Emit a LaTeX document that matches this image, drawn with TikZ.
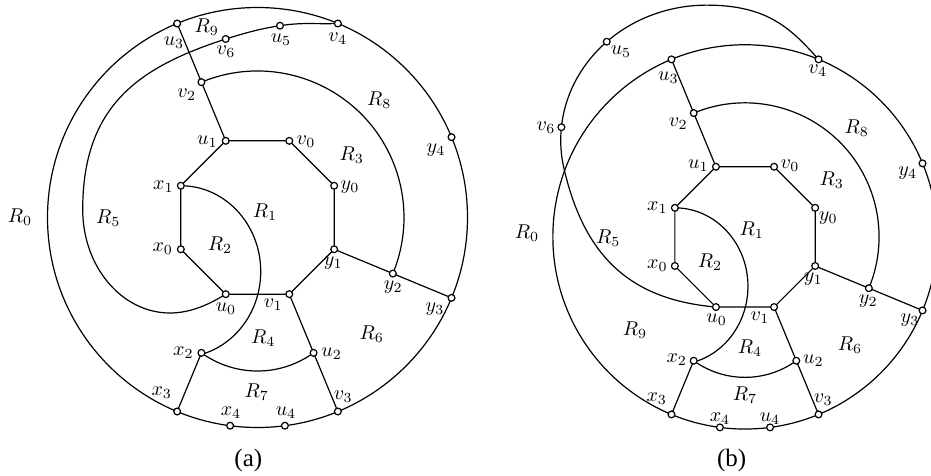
\documentclass[tikz,border=0pt]{standalone}
\usepackage{fontspec}
\newfontfamily\capfont{Liberation Serif}
\usetikzlibrary{backgrounds}
\tikzset{
  vtx/.style={circle, draw, fill=white, line width=0.6pt, inner sep=0pt, minimum size=3.4pt},
  edge/.style={line width=0.6pt},
  lbl/.style={inner sep=0pt},
  capt/.style={inner sep=0pt, font=\capfont\fontsize{12.5}{15}\selectfont},
}
\newcommand\lab[4]{\node[lbl] (#1) at (#2,-#3) {$#4$};}
\newcommand\commonpart[1]{%
  \node[vtx] (#1u1) at (112.5:83) {};
  \node[vtx] (#1v0) at (67.5:83) {};
  \node[vtx] (#1y0) at (22.5:83) {};
  \node[vtx] (#1y1) at (-22.5:83) {};
  \node[vtx] (#1v1) at (-67.5:83) {};
  \node[vtx] (#1u0) at (-112.5:83) {};
  \node[vtx] (#1x0) at (-157.5:83) {};
  \node[vtx] (#1x1) at (157.5:83) {};
  \node[vtx] (#1v2) at (112.5:146.5) {};
  \node[vtx] (#1y2) at (-22.5:146.5) {};
  \node[vtx] (#1u2) at (-67.5:146.5) {};
  \node[vtx] (#1x2) at (-112.5:146.5) {};
  \node[vtx] (#1u3) at (112.5:210) {};
  \node[vtx] (#1v4) at (67.5:210) {};
  \node[vtx] (#1y4) at (22.5:210) {};
  \node[vtx] (#1y3) at (-22.5:210) {};
  \node[vtx] (#1v3) at (-67.5:210) {};
  \node[vtx] (#1u4) at (-82.5:210) {};
  \node[vtx] (#1x4) at (-97.5:210) {};
  \node[vtx] (#1x3) at (-112.5:210) {};
  \begin{pgfonlayer}{background}
    \draw[edge] (#1u1.center) -- (#1v0.center) -- (#1y0.center) -- (#1y1.center) -- (#1v1.center)
      -- (#1u0.center) -- (#1x0.center) -- (#1x1.center) -- cycle;
    \draw[edge] (#1u1.center) -- (#1v2.center) -- (#1u3.center);
    \draw[edge] (#1y1.center) -- (#1y2.center) -- (#1y3.center);
    \draw[edge] (#1v1.center) -- (#1u2.center) -- (#1v3.center);
    \draw[edge] (#1x2.center) -- (#1x3.center);
    \draw[edge] (0,0) circle[radius=210];
    \draw[edge] (#1v2.center) arc[start angle=112.5, end angle=-22.5, radius=146.5];
    \draw[edge] (#1x2.center) arc[start angle=-125.93, end angle=-54.07, radius=95.53];
    \draw[edge] (#1x1.center) arc[start angle=90, end angle=-75.05, x radius=79.9, y radius=85.76];
  \end{pgfonlayer}
}
\begin{document}
\begin{tikzpicture}[x=0.5pt,y=0.5pt]
\useasboundingbox (0,0) rectangle (931,-476);
\begin{pgfonlayer}{background}
  \fill[white] (0,0) rectangle (931,-476);
\end{pgfonlayer}

% ---------------- panel (a)
\begin{scope}[shift={(257.5,-217.5)}]
  \commonpart{a}
  \node[vtx] (av6) at (-31.8,178.5) {};
  \node[vtx] (au5) at (22.5,191.8) {};
  \coordinate (abot) at (-87.5,-95.5);
  \begin{pgfonlayer}{background}
    \draw[edge] (au0.center) .. controls +(212:20) and +(0:20) .. (abot)
      arc[start angle=270, end angle=180, x radius=87.3, y radius=103.5]
      .. controls +(90:105) and +(198:90) .. (av6.center)
      to[out=17,in=189] (au5.center) to[out=9,in=182] (av4.center);
  \end{pgfonlayer}
\end{scope}

% ---------------- panel (b)
\begin{scope}[shift={(745,-236.9)}, scale=0.915]
  \commonpart{b}
\end{scope}
\begin{scope}[shift={(745,-236.9)}]
  \node[vtx] (bv6) at (-183.6,109.7) {};
  \node[vtx] (bu5) at (-138.25,195.2) {};
  \coordinate (bcross) at (-181.1,68.7);
  \begin{pgfonlayer}{background}
    \draw[edge] (bu0.center) .. controls +(175:85) and +(283:92) .. (bcross)
      arc[start angle=192, end angle=90, x radius=146, y radius=135]
      .. controls +(0:62) and +(132:40) .. (bv4.center);
  \end{pgfonlayer}
\end{scope}

% ---------------- labels (a)
\lab{aR9}{206.7}{26.7}{R_9}
\lab{lau3}{174}{42.7}{u_3}
\lab{lav6}{226}{51.7}{v_6}
\lab{lau5}{281}{39.3}{u_5}
\lab{lav4}{337.7}{38.3}{v_4}
\lab{lav2}{186.7}{95}{v_2}
\lab{aR8}{379.3}{100}{R_8}
\lab{lau1}{207.3}{141.7}{u_1}
\lab{lav0}{306}{141.7}{v_0}
\lab{aR3}{351.7}{155}{R_3}
\lab{lay4}{436}{150}{y_4}
\lab{lax1}{163.3}{186.7}{x_1}
\lab{lay0}{350}{186.7}{y_0}
\lab{aR0}{20}{216.7}{R_0}
\lab{aR5}{108.3}{218.3}{R_5}
\lab{aR1}{265}{211.7}{R_1}
\lab{aR2}{220}{245}{R_2}
\lab{lax0}{162.7}{249}{x_0}
\lab{lay1}{333.3}{263.3}{y_1}
\lab{lay2}{393.3}{287.3}{y_2}
\lab{lay3}{435}{309.3}{y_3}
\lab{lau0}{226}{308.3}{u_0}
\lab{lav1}{273.3}{305}{v_1}
\lab{aR4}{263.3}{338.3}{R_4}
\lab{aR6}{371.7}{334}{R_6}
\lab{lax2}{183.3}{352.7}{x_2}
\lab{lau2}{331.7}{353.3}{u_2}
\lab{lax3}{161.7}{392.7}{x_3}
\lab{aR7}{256.7}{391.7}{R_7}
\lab{lav3}{343.3}{396.7}{v_3}
\lab{lax4}{231}{412.7}{x_4}
\lab{lau4}{286}{412.7}{u_4}
\node[capt] (capa) at (248.3,-460) {(a)};

% ---------------- labels (b)
\lab{lbu5}{621}{51.7}{u_5}
\lab{lbv4}{817.7}{70.7}{v_4}
\lab{lbu3}{668.3}{77.3}{u_3}
\lab{lbv6}{546}{127.7}{v_6}
\lab{lbv2}{678.3}{123.3}{v_2}
\lab{bR8}{856.7}{128.3}{R_8}
\lab{lbu1}{698.3}{165.7}{u_1}
\lab{lbv0}{790}{165.7}{v_0}
\lab{bR3}{831.7}{180}{R_3}
\lab{lby4}{907.7}{173.3}{y_4}
\lab{lbx1}{657.3}{207.3}{x_1}
\lab{lby0}{828.3}{218.3}{y_0}
\lab{bR0}{527}{233}{R_0}
\lab{bR5}{608.3}{238.3}{R_5}
\lab{bR1}{751.7}{230}{R_1}
\lab{bR2}{710}{261.7}{R_2}
\lab{lbx0}{657.3}{266}{x_0}
\lab{lby1}{813.3}{279.3}{y_1}
\lab{lby2}{868.3}{300.7}{y_2}
\lab{lby3}{910}{320}{y_3}
\lab{lbu0}{716.7}{319.3}{u_0}
\lab{lbv1}{760}{317.3}{v_1}
\lab{bR9}{635}{330}{R_9}
\lab{bR4}{750}{348.3}{R_4}
\lab{bR6}{850}{345}{R_6}
\lab{lbx2}{676.7}{360}{x_2}
\lab{lbu2}{813.3}{361}{u_2}
\lab{lbx3}{656.7}{398.3}{x_3}
\lab{bR7}{745}{395}{R_7}
\lab{lbv3}{823.3}{400}{v_3}
\lab{lbx4}{720}{418.3}{x_4}
\lab{lbu4}{770}{418.3}{u_4}
\node[capt] (capb) at (731.7,-460) {(b)};
\end{tikzpicture}
\end{document}
